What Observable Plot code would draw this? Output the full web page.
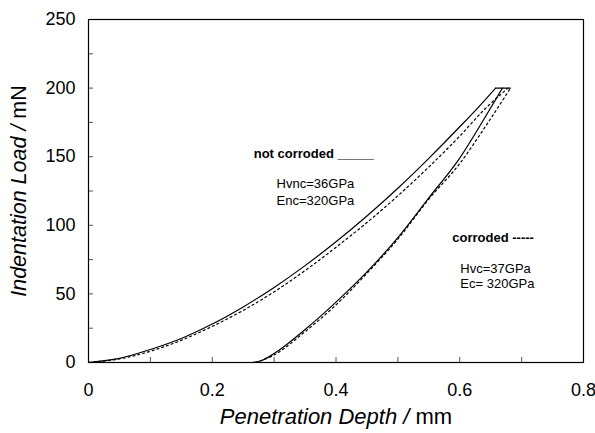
<!DOCTYPE html>
<html><head><meta charset="utf-8">
<script src="https://cdn.jsdelivr.net/npm/d3@7"></script>
<script src="https://cdn.jsdelivr.net/npm/@observablehq/plot@0.6"></script>
<style>
body{margin:0;background:#fff;}
#chart svg{font-family: Arial, "Liberation Sans", sans-serif;}
</style>
</head><body><div id="chart"></div>
<script>
// Tick values
const xTicks = [0, 0.2, 0.4, 0.6, 0.8];
const xMinorTicks = [0.1, 0.2, 0.3, 0.4, 0.5, 0.6, 0.7];
const yTicks = [0, 50, 100, 150, 200, 250];
const yMinorTicks = [25, 50, 75, 100, 125, 150, 175, 200, 225];

// Not corroded (solid): loading
const ncLoadDepth = [0, 0.05, 0.1, 0.15, 0.2, 0.25, 0.3, 0.35, 0.4, 0.45, 0.5, 0.55, 0.6, 0.63, 0.658];
const ncLoadForce = [0, 3, 9.5, 17.5, 28, 40.5, 54.7, 70.6, 88, 106.8, 127, 148.8, 171.8, 186, 200];
// Hold at maximum load (solid)
const holdDepth = [0.658, 0.682];
const holdForce = [200, 200];
// Not corroded (solid): unloading
const ncUnloadDepth = [0.265, 0.28, 0.3, 0.35, 0.4, 0.45, 0.5, 0.55, 0.6, 0.64, 0.669];
const ncUnloadForce = [0, 1.5, 6.5, 24, 44, 66, 91, 120, 149, 178, 200];

// Corroded (dotted): loading
const cLoadDepth = [0, 0.05, 0.1, 0.15, 0.2, 0.25, 0.3, 0.35, 0.4, 0.45, 0.5, 0.55, 0.6, 0.64, 0.678];
const cLoadForce = [0, 2.6, 8.2, 16.2, 26.3, 38, 51.5, 67, 84, 102, 121.5, 142.5, 165, 184.5, 200];
// Corroded (dotted): unloading
const cUnloadDepth = [0.27, 0.3, 0.35, 0.4, 0.45, 0.5, 0.55, 0.6, 0.64, 0.682];
const cUnloadForce = [0, 5.5, 22.5, 42, 65, 90, 119, 145, 171, 200];

// Annotations
const noteText = ["not corroded _____", "Hvnc=36GPa", "Enc=320GPa", "corroded -----", "Hvc=37GPa", "Ec= 320GPa"];
const noteX = [0.267, 0.304, 0.304, 0.588, 0.601, 0.601];
const noteY = [152.3, 130.5, 118, 91, 68.5, 57];
const noteBold = [true, false, false, true, false, false];

const toRows = (xs, ys, name) => xs.map((x, i) => ({x, y: ys[i], curve: name}));
const solidRows = [...toRows(ncLoadDepth, ncLoadForce, "ncLoad"), ...toRows(ncUnloadDepth, ncUnloadForce, "ncUnload")];
const holdRows = toRows(holdDepth, holdForce, "hold");
const dottedRows = [...toRows(cLoadDepth, cLoadForce, "cLoad"), ...toRows(cUnloadDepth, cUnloadForce, "cUnload")];
const notes = noteText.map((t, i) => ({t, x: noteX[i], y: noteY[i], bold: noteBold[i]}));

const chart = Plot.plot({
  width: 595,
  height: 433,
  marginLeft: 88,
  marginRight: 12,
  marginTop: 19,
  marginBottom: 71,
  style: {background: "white", color: "black", fontFamily: "Arial, 'Liberation Sans', sans-serif", fontSize: "18px"},
  x: {domain: [0, 0.8]},
  y: {domain: [0, 250]},
  marks: [
    Plot.axisX(xMinorTicks, {tickSize: 5, dy: -5, text: null, label: null, stroke: "#555"}),
    Plot.axisY(yMinorTicks, {tickSize: 5, dx: 5, text: null, label: null, stroke: "#555"}),
    Plot.axisX(xTicks, {tickSize: 0, tickPadding: 21, fontSize: 18, tickFormat: d => String(d),
      label: "Penetration Depth / mm", labelAnchor: "center", labelArrow: "none", labelOffset: 61}),
    Plot.axisY(yTicks, {tickSize: 0, tickPadding: 13, fontSize: 18, tickFormat: d => String(d),
      label: "Indentation Load / mN", labelAnchor: "center", labelArrow: "none", labelOffset: 78}),
    Plot.line(solidRows, {x: "x", y: "y", z: "curve", stroke: "black", strokeWidth: 1.2, curve: "monotone-x"}),
    Plot.line(holdRows, {x: "x", y: "y", stroke: "black", strokeWidth: 1.2}),
    Plot.line(dottedRows, {x: "x", y: "y", z: "curve", stroke: "black", strokeWidth: 1.2, strokeDasharray: "2,3", curve: "monotone-x"}),
    Plot.text(notes.filter(d => d.bold), {x: "x", y: "y", text: "t", textAnchor: "start", fontSize: 13, fontWeight: "bold", fill: "black"}),
    Plot.text(notes.filter(d => !d.bold), {x: "x", y: "y", text: "t", textAnchor: "start", fontSize: 13, fill: "black"}),
    Plot.frame({stroke: "black", strokeWidth: 1.2})
  ]
});
document.getElementById("chart").appendChild(chart);

// Mixed italic / upright axis labels
function styleLabel(sel, italicPart, uprightPart, size) {
  const t = d3.select(chart).select(sel);
  if (t.empty()) return;
  t.attr("font-size", size);
  t.text(null);
  t.append("tspan").attr("font-style", "italic").text(italicPart);
  t.append("tspan").text(uprightPart);
}
styleLabel('[aria-label="x-axis label"] text', "Penetration Depth / ", "mm", 22);
styleLabel('[aria-label="y-axis label"] text', "Indentation Load / ", "mN", 21.5);
</script>
</body></html>
